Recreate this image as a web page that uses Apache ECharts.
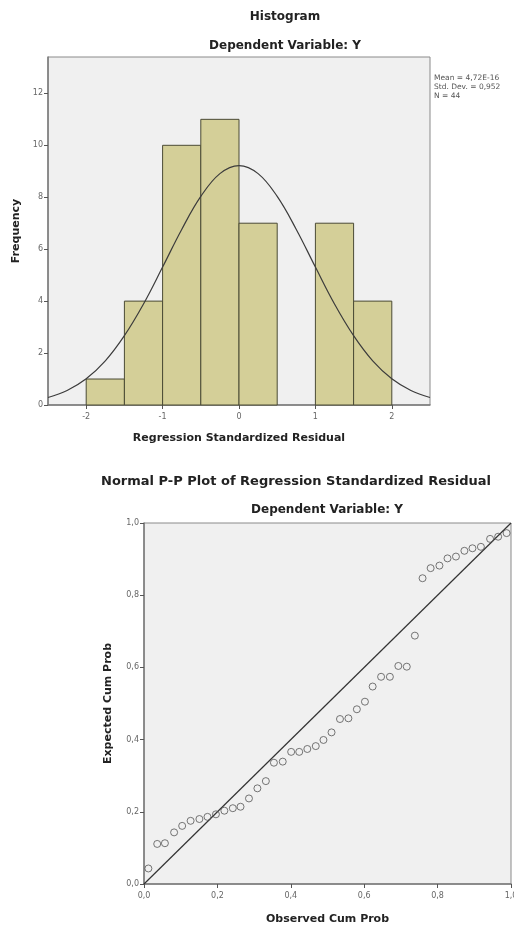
<!DOCTYPE html>
<html>
<head>
<meta charset="utf-8">
<script src="https://cdn.jsdelivr.net/npm/echarts@6/dist/echarts.min.js"></script>
<style>
html,body{margin:0;padding:0;background:#fff;}
#c{width:514px;height:928px;}
</style>
</head>
<body>
<div id="c"></div>
<script>
// ---- Histogram data ----
const binStarts = [-2, -1.5, -1, -0.5, 0, 0.5, 1, 1.5];
const binEnds   = [-1.5, -1, -0.5, 0, 0.5, 1, 1.5, 2];
const frequencies = [1, 4, 10, 11, 7, 0, 7, 4];
const histXTicks = [-2, -1, 0, 1, 2];
const histYTicks = [0, 2, 4, 6, 8, 10, 12];
// normal curve
const curveX = [-2.5, -2.25, -2, -1.75, -1.5, -1.25, -1, -0.75, -0.5, -0.25, 0, 0.25, 0.5, 0.75, 1, 1.25, 1.5, 1.75, 2, 2.25, 2.5];
const curveY = [0.29, 0.56, 1.01, 1.70, 2.67, 3.89, 5.31, 6.76, 8.03, 8.91, 9.22, 8.91, 8.03, 6.76, 5.31, 3.89, 2.67, 1.70, 1.01, 0.56, 0.29];
const statsLines = ['Mean = 4,72E-16', 'Std. Dev. = 0,952', 'N = 44'];

// ---- P-P plot data ----
const observedCum = [0.012, 0.036, 0.057, 0.082, 0.104, 0.127, 0.151, 0.173, 0.196, 0.219, 0.242, 0.263, 0.286, 0.309, 0.332, 0.354, 0.378, 0.401, 0.423, 0.445, 0.468,
  0.489, 0.511, 0.534, 0.557, 0.580, 0.602, 0.623, 0.646, 0.670, 0.693, 0.716, 0.738, 0.759, 0.781, 0.805, 0.827, 0.850, 0.873, 0.895, 0.918, 0.943, 0.965, 0.988];
const expectedCum = [0.043, 0.111, 0.113, 0.143, 0.161, 0.175, 0.180, 0.186, 0.193, 0.203, 0.210, 0.214, 0.237, 0.265, 0.285, 0.336, 0.339, 0.366, 0.366, 0.374, 0.382,
  0.399, 0.420, 0.457, 0.459, 0.484, 0.505, 0.547, 0.574, 0.574, 0.604, 0.602, 0.688, 0.847, 0.875, 0.882, 0.902, 0.907, 0.923, 0.930, 0.934, 0.956, 0.962, 0.972];
const ppTicks = [0, 0.2, 0.4, 0.6, 0.8, 1.0];
const diagonal = [[0, 0], [1, 1]];

const FONT = '"DejaVu Sans", Verdana, sans-serif';
const chart = echarts.init(document.getElementById('c'), null, {renderer: 'canvas'});

const histBars = binStarts.map((s, i) => [s, binEnds[i], frequencies[i]]);
const curveData = curveX.map((x, i) => [x, curveY[i]]);
const ppData = observedCum.map((x, i) => [x, expectedCum[i]]);

const axisLineStyle = {show: true, onZero: false, lineStyle: {color: '#7a7a7a', width: 1.5}};
const tickStyle = {show: true, length: 4, lineStyle: {color: '#555', width: 1}};
const lbl = (size) => ({color: '#666', fontSize: size, fontFamily: FONT});
const comma = v => v.toFixed(1).replace('.', ',');

const option = {
  backgroundColor: '#fff',
  animation: false,
  grid: [
    {left: 48, top: 57, width: 382, height: 348, show: true, backgroundColor: '#F0F0F0', borderColor: '#8a8a8a', borderWidth: 1, outerBoundsMode: 'none', containLabel: false},
    {left: 144, top: 523, width: 367, height: 361, show: true, backgroundColor: '#F0F0F0', borderColor: '#8a8a8a', borderWidth: 1, outerBoundsMode: 'none', containLabel: false}
  ],
  xAxis: [
    {type: 'value', gridIndex: 0, min: -2.5, max: 2.5,
     axisLine: axisLineStyle, axisTick: Object.assign({customValues: histXTicks}, tickStyle),
     axisLabel: Object.assign({customValues: histXTicks, margin: 8}, lbl(8)),
     splitLine: {show: false},
     name: 'Regression Standardized Residual', nameLocation: 'middle', nameGap: 28,
     nameTextStyle: {fontWeight: 'bold', fontSize: 11, color: '#222', fontFamily: FONT}},
    {type: 'value', gridIndex: 1, min: 0, max: 1,
     axisLine: axisLineStyle, axisTick: Object.assign({customValues: ppTicks}, tickStyle),
     axisLabel: Object.assign({customValues: ppTicks, margin: 8, formatter: comma}, lbl(8)),
     splitLine: {show: false},
     name: 'Observed Cum Prob', nameLocation: 'middle', nameGap: 30,
     nameTextStyle: {fontWeight: 'bold', fontSize: 11, color: '#222', fontFamily: FONT}}
  ],
  yAxis: [
    {type: 'value', gridIndex: 0, min: 0, max: 13.4,
     axisLine: axisLineStyle, axisTick: Object.assign({customValues: histYTicks}, tickStyle),
     axisLabel: Object.assign({customValues: histYTicks, margin: 5}, lbl(8)),
     splitLine: {show: false},
     name: 'Frequency', nameLocation: 'middle', nameGap: 24,
     nameTextStyle: {fontWeight: 'bold', fontSize: 11, color: '#222', fontFamily: FONT}},
    {type: 'value', gridIndex: 1, min: 0, max: 1,
     axisLine: axisLineStyle, axisTick: Object.assign({customValues: ppTicks}, tickStyle),
     axisLabel: Object.assign({customValues: ppTicks, margin: 5, formatter: comma}, lbl(8)),
     splitLine: {show: false},
     name: 'Expected Cum Prob', nameLocation: 'middle', nameGap: 30,
     nameTextStyle: {fontWeight: 'bold', fontSize: 11, color: '#222', fontFamily: FONT}}
  ],
  series: [
    {type: 'custom', xAxisIndex: 0, yAxisIndex: 0, data: histBars, clip: false, z: 2,
     encode: {x: [0, 1], y: 2},
     renderItem: function (params, api) {
       const f = api.value(2);
       if (!f) return null;
       const p0 = api.coord([api.value(0), f]);
       const p1 = api.coord([api.value(1), 0]);
       return {type: 'rect', shape: {x: p0[0], y: p0[1], width: p1[0] - p0[0], height: p1[1] - p0[1]},
         style: {fill: '#D4CF98', stroke: '#4a4a35', lineWidth: 1}};
     }},
    {type: 'line', xAxisIndex: 0, yAxisIndex: 0, data: curveData, smooth: 0.4, showSymbol: false, symbol: 'none',
     lineStyle: {color: '#3c3c3c', width: 1.2}, z: 3},
    {type: 'line', xAxisIndex: 1, yAxisIndex: 1, data: diagonal, showSymbol: false, symbol: 'none',
     lineStyle: {color: '#333', width: 1.2}, z: 3},
    {type: 'scatter', xAxisIndex: 1, yAxisIndex: 1, data: ppData, symbol: 'circle', symbolSize: 7,
     itemStyle: {color: 'rgba(0,0,0,0)', borderColor: '#555', borderWidth: 1}, z: 4}
  ],
  graphic: [
    {type: 'text', x: 285, y: 17, style: {text: 'Histogram', font: 'bold 12px ' + FONT, fill: '#222', textAlign: 'center', textVerticalAlign: 'middle'}},
    {type: 'text', x: 285, y: 46, style: {text: 'Dependent Variable: Y', font: 'bold 12px ' + FONT, fill: '#222', textAlign: 'center', textVerticalAlign: 'middle'}},
    {type: 'text', x: 434, y: 74, style: {text: statsLines.join('\n'), font: '7.5px ' + FONT, lineHeight: 9, fill: '#555', textAlign: 'left', textVerticalAlign: 'top'}},
    {type: 'text', x: 296, y: 482, style: {text: 'Normal P-P Plot of Regression Standardized Residual', font: 'bold 13px ' + FONT, fill: '#222', textAlign: 'center', textVerticalAlign: 'middle'}},
    {type: 'text', x: 327, y: 510, style: {text: 'Dependent Variable: Y', font: 'bold 12px ' + FONT, fill: '#222', textAlign: 'center', textVerticalAlign: 'middle'}}
  ]
};
chart.setOption(option);
</script>
</body>
</html>
